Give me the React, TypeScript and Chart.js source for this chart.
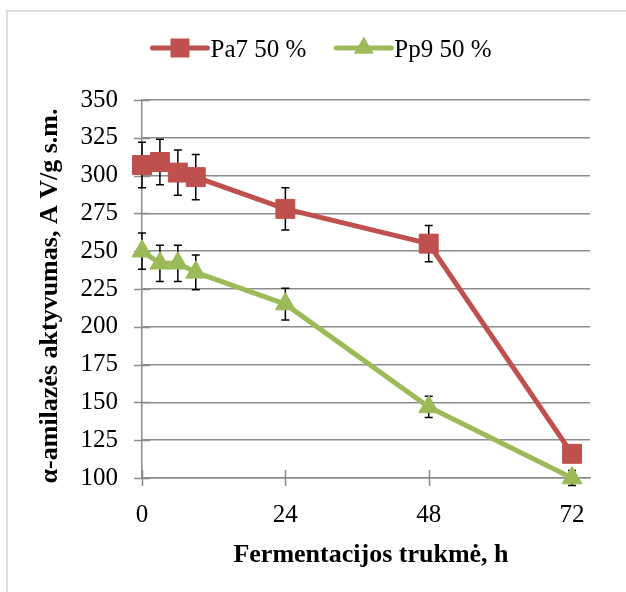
import { useEffect, useRef } from "react";
import { Chart, registerables } from "chart.js";

Chart.register(...registerables);

// Fermentation time, h
const hours = [0, 3, 6, 9, 24, 48, 72];
// α-amylase activity, AV/g d.m.
const pa7Values = [307, 309, 302, 299, 278, 255, 116];
const pa7Errors = [15, 15, 15, 15, 14, 12, 3];
const pp9Values = [250, 242, 242, 236, 215, 147, 100];
const pp9Errors = [12, 12, 12, 11.5, 10.5, 7, 5];

const seriesNames = ["Pa7 50 %", "Pp9 50 %"];
const seriesColors = ["#C0504D", "#9BBB59"];
const seriesMarkers = ["rect", "triangle"];
const xTickValues = [0, 24, 48, 72];
const xTitle = "Fermentacijos trukmė, h";
const yTitle = "α-amilazės aktyvumas, A V/g s.m.";

const SERIF = "'Liberation Serif', 'Times New Roman', serif";
const GRID = "#8c8c8c";

function drawMarker(ctx: CanvasRenderingContext2D, kind: string, x: number, y: number, color: string) {
  ctx.save();
  ctx.fillStyle = color;
  ctx.beginPath();
  if (kind === "rect") {
    ctx.rect(x - 9.5, y - 9.5, 19, 19);
  } else {
    const r = 11.5;
    ctx.moveTo(x, y - r);
    ctx.lineTo(x + r * Math.sin((2 * Math.PI) / 3), y + r / 2);
    ctx.lineTo(x - r * Math.sin((2 * Math.PI) / 3), y + r / 2);
    ctx.closePath();
  }
  ctx.fill();
  ctx.restore();
}

const decorPlugin = {
  id: "decor",
  beforeDraw(chart: any) {
    const ctx = chart.ctx as CanvasRenderingContext2D;
    ctx.save();
    ctx.fillStyle = "#ffffff";
    ctx.fillRect(0, 0, chart.width, chart.height);
    ctx.strokeStyle = "#dedede";
    ctx.lineWidth = 2;
    ctx.strokeRect(7, 11, chart.width + 20, chart.height + 20);
    ctx.restore();
  },
  beforeDatasetsDraw(chart: any) {
    const ctx = chart.ctx as CanvasRenderingContext2D;
    const xs = chart.scales.x;
    const ys = chart.scales.y;
    const area = chart.chartArea;
    ctx.save();
    // cross tick marks on both axes
    ctx.strokeStyle = GRID;
    ctx.lineWidth = 1.5;
    ctx.beginPath();
    ys.ticks.forEach((t: any) => {
      const py = Math.round(ys.getPixelForValue(t.value)) + 0.5;
      ctx.moveTo(area.left - 8, py);
      ctx.lineTo(area.left + 8, py);
    });
    xs.ticks.forEach((t: any) => {
      const px = Math.round(xs.getPixelForValue(t.value)) + 0.5;
      ctx.moveTo(px, area.bottom - 8);
      ctx.lineTo(px, area.bottom + 8);
    });
    ctx.stroke();

    // error bars
    const errs = [pa7Errors, pp9Errors];
    const vals = [pa7Values, pp9Values];
    ctx.strokeStyle = "#000000";
    ctx.lineWidth = 1.5;
    errs.forEach((errList, di) => {
      const meta = chart.getDatasetMeta(di);
      errList.forEach((e, i) => {
        const px = meta.data[i].x;
        const top = ys.getPixelForValue(vals[di][i] + e);
        const bot = ys.getPixelForValue(vals[di][i] - e);
        ctx.beginPath();
        ctx.moveTo(px, top);
        ctx.lineTo(px, bot);
        ctx.moveTo(px - 4, top);
        ctx.lineTo(px + 4, top);
        ctx.moveTo(px - 4, bot);
        ctx.lineTo(px + 4, bot);
        ctx.stroke();
      });
    });
    ctx.restore();
  },
  afterDraw(chart: any) {
    const ctx = chart.ctx as CanvasRenderingContext2D;
    ctx.save();
    // legend
    ctx.font = `25px ${SERIF}`;
    ctx.fillStyle = "#000000";
    ctx.textBaseline = "alphabetic";
    const lineLen = 55;
    const gapText = 3;
    const gapItems = 30;
    const widths = seriesNames.map((n) => lineLen + gapText + ctx.measureText(n).width);
    const total = widths.reduce((a, b) => a + b, 0) + gapItems * (widths.length - 1);
    let lx = 322 - total / 2;
    const ly = 48;
    seriesNames.forEach((name, i) => {
      ctx.strokeStyle = seriesColors[i];
      ctx.lineWidth = 5;
      ctx.lineCap = "round";
      ctx.beginPath();
      ctx.moveTo(lx, ly);
      ctx.lineTo(lx + lineLen, ly);
      ctx.stroke();
      drawMarker(ctx, seriesMarkers[i], lx + lineLen / 2, ly, seriesColors[i]);
      ctx.fillStyle = "#000000";
      ctx.textAlign = "left";
      ctx.fillText(name, lx + lineLen + gapText, 57);
      lx += widths[i] + gapItems;
    });

    // axis titles
    ctx.font = `bold 26px ${SERIF}`;
    ctx.textAlign = "center";
    ctx.fillText(xTitle, 371, 562);
    ctx.translate(57, 296);
    ctx.rotate(-Math.PI / 2);
    ctx.fillText(yTitle, 0, 0);
    ctx.restore();
  },
};

export default function App() {
  const ref = useRef<HTMLCanvasElement | null>(null);

  useEffect(() => {
    document.body.style.margin = "0";
    const canvas = ref.current;
    if (!canvas) return;
    const makeSet = (i: number, values: number[]) => ({
      label: seriesNames[i],
      data: hours.map((h, k) => ({ x: h, y: values[k] })),
      borderColor: seriesColors[i],
      backgroundColor: seriesColors[i],
      borderWidth: 5,
      borderJoinStyle: "round" as const,
      pointStyle: seriesMarkers[i],
      pointRadius: i === 0 ? 13.4 : 11.5,
      pointBorderWidth: 1,
      pointBorderColor: seriesColors[i],
      pointBackgroundColor: seriesColors[i],
      clip: false as any,
      tension: 0,
    });
    const chart = new Chart(canvas, {
      type: "line",
      data: {
        datasets: [makeSet(0, pa7Values), makeSet(1, pp9Values)],
      },
      options: {
        responsive: false,
        animation: false,
        devicePixelRatio: 1,
        layout: { padding: { left: 0, right: 36, top: 100, bottom: 0 } },
        plugins: {
          legend: { display: false },
          tooltip: { enabled: false },
        },
        scales: {
          x: {
            type: "linear",
            min: 0,
            max: 75,
            afterBuildTicks: (scale: any) => {
              scale.ticks = xTickValues.map((v) => ({ value: v }));
            },
            afterFit: (scale: any) => {
              scale.height = 114;
            },
            grid: { drawOnChartArea: false, drawTicks: false },
            border: { display: true, color: GRID, width: 1.5 },
            ticks: {
              padding: 22,
              color: "#000000",
              font: { family: SERIF, size: 25 },
              maxRotation: 0,
            },
          },
          y: {
            type: "linear",
            min: 100,
            max: 350,
            afterFit: (scale: any) => {
              scale.width = 142;
            },
            grid: { color: GRID, lineWidth: 1.5, drawTicks: false },
            border: { display: true, color: GRID, width: 1.5 },
            ticks: {
              stepSize: 25,
              padding: 24,
              color: "#000000",
              font: { family: SERIF, size: 25 },
            },
          },
        },
      },
      plugins: [decorPlugin],
    });
    return () => chart.destroy();
  }, []);

  return (
    <div style={{ width: 626, height: 592 }}>
      <canvas ref={ref} width={626} height={592} />
    </div>
  );
}
